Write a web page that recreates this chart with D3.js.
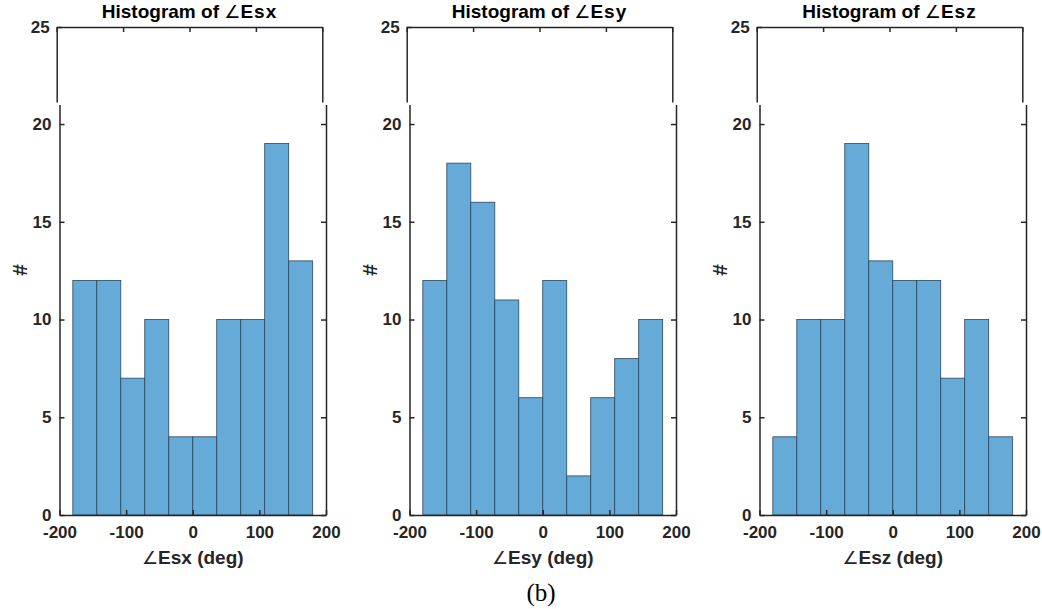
<!DOCTYPE html>
<html>
<head>
<meta charset="utf-8">
<script src="https://cdn.jsdelivr.net/npm/d3@7"></script>
<style>
  html, body { margin: 0; padding: 0; background: #fff; }
  svg { display: block; }
  .axis path, .axis line { stroke: #262626; stroke-width: 1.5; }
</style>
</head>
<body>
<svg id="chart" width="1042" height="609"></svg>
<script>
// Bin edges shared by all three histograms (degrees)
const binEdges = [-180, -144, -108, -72, -36, 0, 36, 72, 108, 144, 180];

// Counts per bin
const countsEsx = [12, 12, 7, 10, 4, 4, 10, 10, 19, 13];
const countsEsy = [12, 18, 16, 11, 6, 12, 2, 6, 8, 10];
const countsEsz = [4, 10, 10, 19, 13, 12, 12, 7, 10, 4];

const panelNames = ["Esx", "Esy", "Esz"];
const panelCounts = [countsEsx, countsEsy, countsEsz];

const xTicks = [-200, -100, 0, 100, 200];
const yTicksLow = [0, 5, 10, 15, 20];
const yTicksHigh = [25];

const barFill = "rgb(102,170,215)";
const barStroke = "#2b465c";
const ANGLE = "\u2220";
const SANS = "'Liberation Sans', Arial, sans-serif";
const plain = d => String(d);   // keeps the ASCII hyphen for negatives

const svg = d3.select("#chart");

function styleTicks(sel) {
  sel.selectAll("text")
    .style("font-family", SANS)
    .style("font-weight", "bold")
    .style("font-size", "17px")
    .attr("fill", "#262626");
  sel.select(".domain").attr("fill", "none");
}

panelNames.forEach((name, i) => {
  const ox = i * 350;
  const g = svg.append("g");

  // Lower (main) part of the broken y axis: 0..21
  const xLow = d3.scaleLinear().domain([-200, 200]).range([59.5 + ox, 326 + ox]);
  const yLow = d3.scaleLinear().domain([0, 21]).range([515, 104.5]);

  // Upper part of the broken y axis: 21..25
  const xUp = d3.scaleLinear().domain([-200, 200]).range([56.7 + ox, 322.3 + ox]);
  const yUp = d3.scaleLinear().domain([21, 25]).range([102, 27]);

  // Bars
  const counts = panelCounts[i];
  g.append("g").selectAll("rect")
    .data(counts)
    .join("rect")
    .attr("x", (d, k) => xLow(binEdges[k]))
    .attr("width", (d, k) => xLow(binEdges[k + 1]) - xLow(binEdges[k]))
    .attr("y", d => yLow(d))
    .attr("height", d => yLow(0) - yLow(d))
    .attr("fill", barFill)
    .attr("stroke", barStroke)
    .attr("stroke-width", 0.8);

  // Lower axes frame: bottom, left, right
  g.append("g").attr("class", "axis")
    .attr("transform", `translate(0,${yLow(0)})`)
    .call(d3.axisBottom(xLow).tickValues(xTicks).tickFormat(plain).tickSizeInner(-5).tickSizeOuter(0).tickPadding(11))
    .call(styleTicks);
  g.append("g").attr("class", "axis")
    .attr("transform", `translate(${xLow(-200)},0)`)
    .call(d3.axisLeft(yLow).tickValues(yTicksLow).tickFormat(plain).tickSizeInner(-5).tickSizeOuter(0).tickPadding(8))
    .call(styleTicks);
  g.append("g").attr("class", "axis")
    .attr("transform", `translate(${xLow(200)},0)`)
    .call(d3.axisRight(yLow).tickValues(yTicksLow).tickSizeInner(-5).tickSizeOuter(0).tickFormat(""))
    .call(styleTicks);

  // Upper axes frame: top, left, right
  g.append("g").attr("class", "axis")
    .attr("transform", `translate(0,${yUp(25)})`)
    .call(d3.axisTop(xUp).tickValues(xTicks).tickSizeInner(-5).tickSizeOuter(0).tickFormat(""))
    .call(styleTicks);
  g.append("g").attr("class", "axis")
    .attr("transform", `translate(${xUp(-200)},0)`)
    .call(d3.axisLeft(yUp).tickValues(yTicksHigh).tickFormat(plain).tickSizeInner(-5).tickSizeOuter(0).tickPadding(7))
    .call(styleTicks);
  g.append("g").attr("class", "axis")
    .attr("transform", `translate(${xUp(200)},0)`)
    .call(d3.axisRight(yUp).tickValues([]).tickSizeOuter(0))
    .call(styleTicks);

  // Title
  const title = g.append("text")
    .attr("x", (xUp(-200) + xUp(200)) / 2)
    .attr("y", 17.5)
    .attr("text-anchor", "middle")
    .style("font-family", SANS)
    .style("font-weight", "bold")
    .style("font-size", "19px")
    .attr("fill", "#000");
  title.append("tspan").text("Histogram of ");
  title.append("tspan").text(ANGLE)
    .style("font-family", "'DejaVu Sans', sans-serif").style("font-weight", "normal").style("font-size", "18px");
  title.append("tspan").text(name).attr("letter-spacing", "1");

  // X axis label
  const xl = g.append("text")
    .attr("x", (xLow(-200) + xLow(200)) / 2)
    .attr("y", 563.5)
    .attr("text-anchor", "middle")
    .style("font-family", SANS)
    .style("font-weight", "bold")
    .style("font-size", "19px")
    .attr("fill", "#262626");
  xl.append("tspan").text(ANGLE)
    .style("font-family", "'DejaVu Sans', sans-serif").style("font-weight", "normal").style("font-size", "18px");
  xl.append("tspan").text(name + " (deg)");

  // Y axis label
  g.append("text")
    .attr("transform", `translate(${27 + ox},270) rotate(-90)`)
    .attr("text-anchor", "middle")
    .style("font-family", SANS)
    .style("font-weight", "bold")
    .style("font-size", "21px")
    .attr("fill", "#262626")
    .text("#");
});

// Sub-figure caption
svg.append("text")
  .attr("x", 541)
  .attr("y", 601)
  .attr("text-anchor", "middle")
  .style("font-family", "'Liberation Serif', 'Times New Roman', serif")
  .style("font-size", "25px")
  .attr("fill", "#000")
  .text("(b)");
</script>
</body>
</html>
